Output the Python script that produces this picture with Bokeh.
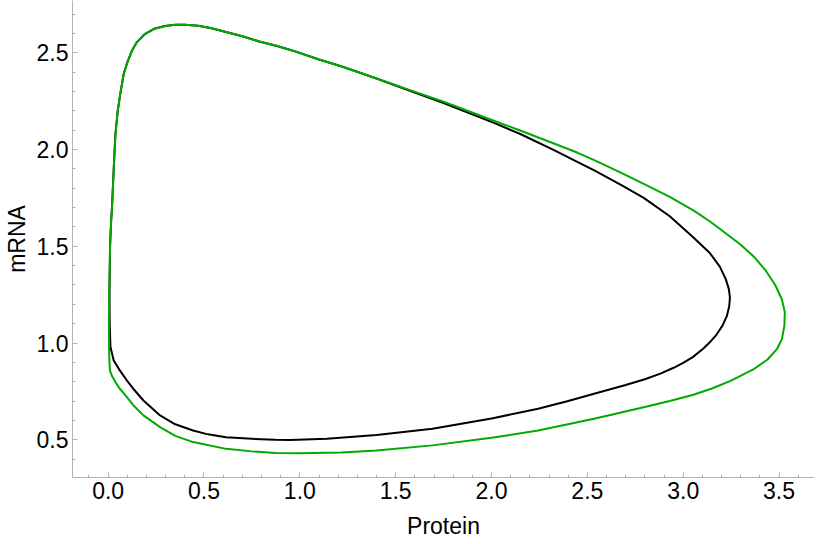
from bokeh.plotting import figure
from bokeh.models import Range1d, SingleIntervalTicker, PrintfTickFormatter
from bokeh.embed import file_html
from bokeh.resources import INLINE

# Black limit cycle (Protein, mRNA)
black_protein = [0.012, 0.008, 0.007, 0.010, 0.015, 0.021, 0.030, 0.038, 0.050, 0.062,
                 0.081, 0.100, 0.124, 0.150, 0.193, 0.240, 0.297, 0.350, 0.400, 0.470,
                 0.540, 0.615, 0.700, 0.788, 0.882, 0.960, 1.100, 1.227, 1.400, 1.571,
                 1.750, 1.916, 2.019, 2.150, 2.329, 2.450, 2.536, 2.680, 2.794, 2.930,
                 3.052, 3.139, 3.191, 3.222, 3.238, 3.244, 3.240, 3.228, 3.205, 3.175,
                 3.140, 3.104, 3.050, 3.000, 2.950, 2.881, 2.800, 2.700, 2.535, 2.400,
                 2.243, 2.000, 1.692, 1.400, 1.141, 0.950, 0.873, 0.750, 0.615, 0.520,
                 0.443, 0.350, 0.271, 0.184, 0.130, 0.098, 0.060, 0.029, 0.012]
black_mrna = [0.979, 1.100, 1.250, 1.500, 1.620, 1.720, 1.920, 2.080, 2.200, 2.280,
              2.390, 2.450, 2.510, 2.555, 2.598, 2.624, 2.638, 2.645, 2.645, 2.640,
              2.627, 2.607, 2.585, 2.558, 2.535, 2.512, 2.465, 2.426, 2.367, 2.305,
              2.240, 2.176, 2.135, 2.080, 1.995, 1.935, 1.892, 1.815, 1.750, 1.655,
              1.547, 1.465, 1.395, 1.330, 1.280, 1.235, 1.190, 1.140, 1.090, 1.045,
              1.005, 0.970, 0.927, 0.897, 0.872, 0.842, 0.813, 0.783, 0.738, 0.700,
              0.660, 0.610, 0.557, 0.525, 0.505, 0.499, 0.500, 0.505, 0.513, 0.528,
              0.548, 0.580, 0.626, 0.703, 0.765, 0.806, 0.860, 0.910, 0.979]

# Green limit cycle (Protein, mRNA)
green_protein = [0.009, 0.005, 0.004, 0.005, 0.010, 0.015, 0.021, 0.030, 0.038, 0.050,
                 0.062, 0.081, 0.100, 0.124, 0.150, 0.193, 0.240, 0.297, 0.350, 0.400,
                 0.470, 0.540, 0.615, 0.700, 0.788, 0.882, 0.960, 1.100, 1.227, 1.400,
                 1.571, 1.750, 1.916, 2.019, 2.150, 2.329, 2.450, 2.536, 2.680, 2.794,
                 2.930, 3.053, 3.140, 3.225, 3.300, 3.370, 3.430, 3.480, 3.515, 3.530,
                 3.528, 3.515, 3.490, 3.440, 3.363, 3.250, 3.150, 3.053, 2.930, 2.794,
                 2.535, 2.243, 2.000, 1.692, 1.400, 1.218, 1.000, 0.873, 0.750, 0.615,
                 0.443, 0.350, 0.271, 0.184, 0.130, 0.098, 0.060, 0.038, 0.020, 0.009]
green_mrna = [0.858, 0.950, 1.100, 1.250, 1.500, 1.620, 1.720, 1.920, 2.080, 2.200,
              2.280, 2.390, 2.450, 2.510, 2.555, 2.598, 2.624, 2.638, 2.645, 2.645,
              2.640, 2.627, 2.607, 2.585, 2.558, 2.535, 2.512, 2.465, 2.426, 2.367,
              2.308, 2.247, 2.185, 2.146, 2.098, 2.030, 1.983, 1.945, 1.878, 1.822,
              1.755, 1.685, 1.628, 1.565, 1.508, 1.445, 1.375, 1.300, 1.225, 1.160,
              1.090, 1.020, 0.970, 0.915, 0.862, 0.806, 0.765, 0.733, 0.700, 0.668,
              0.609, 0.548, 0.510, 0.471, 0.445, 0.434, 0.430, 0.432, 0.440, 0.453,
              0.488, 0.520, 0.565, 0.626, 0.680, 0.720, 0.765, 0.798, 0.830, 0.858]

x_label = "Protein"
y_label = "mRNA"

FONT = "Liberation Sans"
AXIS_GRAY = "#b3b3b3"

p = figure(width=814, height=543, output_backend="svg", toolbar_location=None,
           x_range=Range1d(-0.186, 3.685), y_range=Range1d(0.305, 2.770),
           min_border_left=65, min_border_right=0, min_border_top=0, min_border_bottom=66)

p.grid.visible = False
p.outline_line_color = None
p.background_fill_color = "white"
p.border_fill_color = "white"

p.line(black_protein, black_mrna, line_color="black", line_width=2, line_join="round")
p.line(green_protein, green_mrna, line_color="#00aa00", line_width=2, line_join="round")

for ax in (p.xaxis[0], p.yaxis[0]):
    ax.ticker = SingleIntervalTicker(interval=0.5, num_minor_ticks=5)
    ax.formatter = PrintfTickFormatter(format="%.1f")
    ax.axis_line_color = AXIS_GRAY
    ax.major_tick_line_color = AXIS_GRAY
    ax.minor_tick_line_color = AXIS_GRAY
    ax.major_tick_in = 5
    ax.major_tick_out = 0
    ax.minor_tick_in = 3
    ax.minor_tick_out = 0
    ax.major_label_text_font = FONT
    ax.major_label_text_font_size = "23px"
    ax.major_label_text_color = "black"
    ax.axis_label_text_font = FONT
    ax.axis_label_text_font_size = "23px"
    ax.axis_label_text_font_style = "normal"
    ax.axis_label_text_color = "black"

p.xaxis.axis_label = x_label
p.yaxis.axis_label = y_label
p.xaxis.major_label_standoff = 4
p.yaxis.major_label_standoff = 4
p.xaxis.axis_label_standoff = 11
p.yaxis.axis_label_standoff = 4

open("out.html", "w").write(file_html(p, INLINE))
